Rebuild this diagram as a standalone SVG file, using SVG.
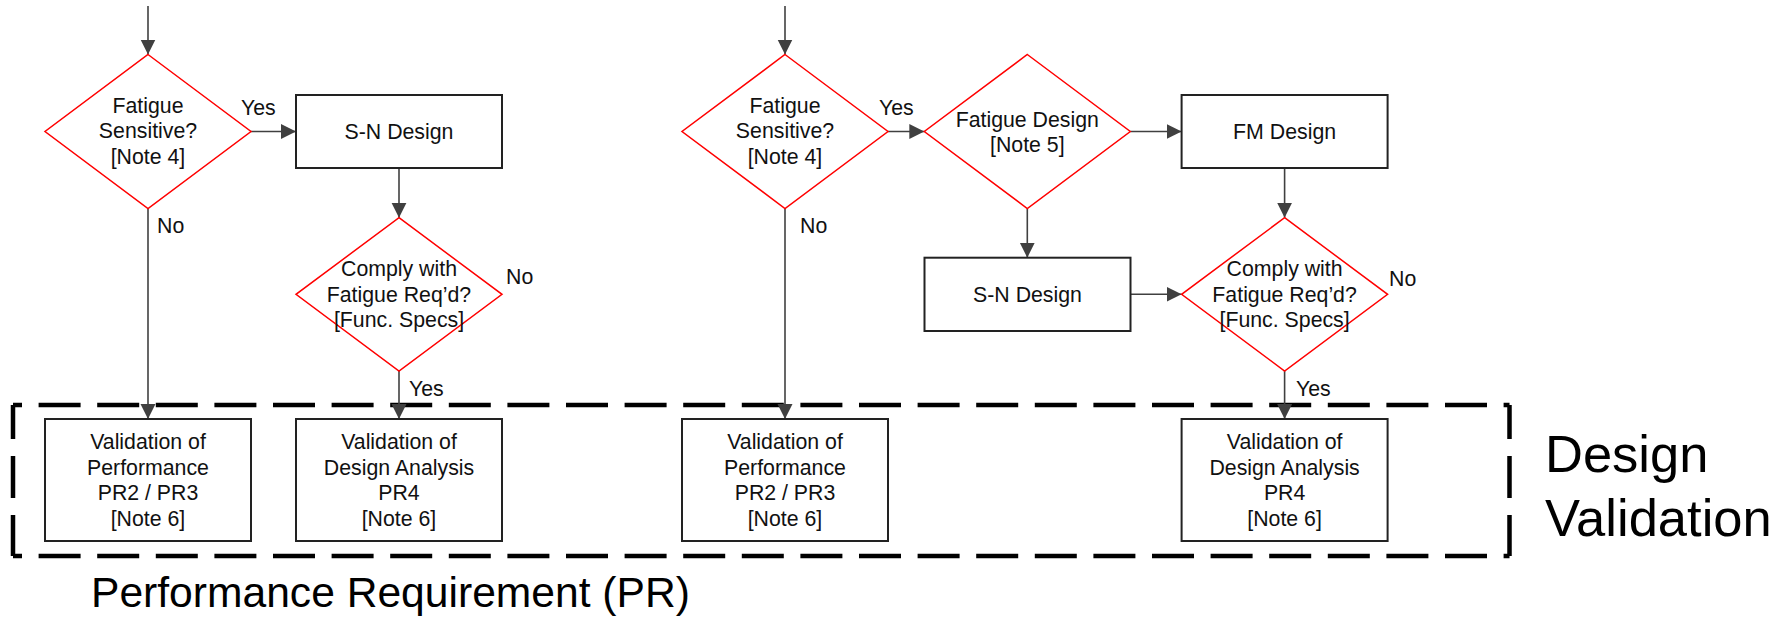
<svg xmlns="http://www.w3.org/2000/svg" width="1786" height="618" viewBox="0 0 1786 618">
<style>
  .dec{fill:#fff;stroke:#ff0000;stroke-width:1.5}
  .box{fill:#fff;stroke:#222;stroke-width:2}
  .t{font-family:"Liberation Sans",Arial,sans-serif;font-size:21.3px;fill:#111;text-anchor:middle}
  .lbl{font-family:"Liberation Sans",Arial,sans-serif;font-size:21.3px;fill:#111}
  .con{fill:none;stroke:#404040;stroke-width:1.6}
  .dash{fill:none;stroke:#000;stroke-width:4.5}
  .big{font-family:"Liberation Sans",Arial,sans-serif;fill:#000}
</style>
<defs>
  <marker id="arr" markerUnits="userSpaceOnUse" markerWidth="16" markerHeight="16" refX="15" refY="8" orient="auto">
    <path d="M0,0.5 L15,8 L0,15.5 z" fill="#404040"/>
  </marker>
</defs>

<g id="validation-frame">
  <path class="dash" d="M13,405 H1509.5" stroke-dasharray="42 16.6" stroke-dashoffset="33"/>
  <path class="dash" d="M13,556 H1509.5" stroke-dasharray="42 16.6" stroke-dashoffset="33"/>
  <path class="dash" d="M13,405 V556" stroke-dasharray="34 17 42 17 42"/>
  <path class="dash" d="M1509.5,405 V556" stroke-dasharray="34 17 42 17 42"/>
</g>

<g id="connectors">
  <path class="con" d="M148,6 V54.5" marker-end="url(#arr)"/>
  <path class="con" d="M251,131.5 H296" marker-end="url(#arr)"/>
  <path class="con" d="M399,168 V217.7" marker-end="url(#arr)"/>
  <path class="con" d="M148,208.5 V419" marker-end="url(#arr)"/>
  <path class="con" d="M399,371 V419" marker-end="url(#arr)"/>
  <path class="con" d="M785,6 V54.5" marker-end="url(#arr)"/>
  <path class="con" d="M888,131.5 H924.3" marker-end="url(#arr)"/>
  <path class="con" d="M1130.3,131.5 H1181.6" marker-end="url(#arr)"/>
  <path class="con" d="M1027.3,208.5 V257.7" marker-end="url(#arr)"/>
  <path class="con" d="M1130.5,294.3 H1181.6" marker-end="url(#arr)"/>
  <path class="con" d="M1284.6,168 V217.7" marker-end="url(#arr)"/>
  <path class="con" d="M785,208.5 V419" marker-end="url(#arr)"/>
  <path class="con" d="M1284.6,371 V419" marker-end="url(#arr)"/>
  <text class="lbl" x="241" y="115">Yes</text>
  <text class="lbl" x="157" y="233">No</text>
  <text class="lbl" x="506" y="284">No</text>
  <text class="lbl" x="409" y="396">Yes</text>
  <text class="lbl" x="879" y="115">Yes</text>
  <text class="lbl" x="800" y="233">No</text>
  <text class="lbl" x="1389" y="286">No</text>
  <text class="lbl" x="1296" y="396">Yes</text>
</g>

<g id="d1-fatigue-sensitive">
  <polygon class="dec" points="148,54.5 251,131.5 148,208.5 45,131.5"/>
  <text class="t" x="148" y="112.7">Fatigue</text>
  <text class="t" x="148" y="138.3">Sensitive?</text>
  <text class="t" x="148" y="163.8">[Note 4]</text>
</g>
<g id="sn-design-1">
  <rect class="box" x="296" y="95" width="206" height="73"/>
  <text class="t" x="399" y="139">S-N Design</text>
</g>
<g id="d2-comply">
  <polygon class="dec" points="399,217.7 502,294.3 399,371 296,294.3"/>
  <text class="t" x="399" y="276.3">Comply with</text>
  <text class="t" x="399" y="301.8">Fatigue Req’d?</text>
  <text class="t" x="399" y="327.3">[Func. Specs]</text>
</g>
<g id="val-perf-1">
  <rect class="box" x="45" y="419" width="206" height="122"/>
  <text class="t" x="148" y="449">Validation of</text>
  <text class="t" x="148" y="474.5">Performance</text>
  <text class="t" x="148" y="500">PR2 / PR3</text>
  <text class="t" x="148" y="525.5">[Note 6]</text>
</g>
<g id="val-design-1">
  <rect class="box" x="296" y="419" width="206" height="122"/>
  <text class="t" x="399" y="449">Validation of</text>
  <text class="t" x="399" y="474.5">Design Analysis</text>
  <text class="t" x="399" y="500">PR4</text>
  <text class="t" x="399" y="525.5">[Note 6]</text>
</g>

<g id="d3-fatigue-sensitive">
  <polygon class="dec" points="785,54.5 888,131.5 785,208.5 682,131.5"/>
  <text class="t" x="785" y="112.7">Fatigue</text>
  <text class="t" x="785" y="138.3">Sensitive?</text>
  <text class="t" x="785" y="163.8">[Note 4]</text>
</g>
<g id="d4-fatigue-design">
  <polygon class="dec" points="1027.3,54.5 1130.3,131.5 1027.3,208.5 924.3,131.5"/>
  <text class="t" x="1027.3" y="126.5">Fatigue Design</text>
  <text class="t" x="1027.3" y="152">[Note 5]</text>
</g>
<g id="fm-design">
  <rect class="box" x="1181.6" y="95" width="206" height="73"/>
  <text class="t" x="1284.6" y="139">FM Design</text>
</g>
<g id="sn-design-2">
  <rect class="box" x="924.5" y="257.7" width="206" height="73.3"/>
  <text class="t" x="1027.5" y="301.8">S-N Design</text>
</g>
<g id="d5-comply">
  <polygon class="dec" points="1284.6,217.7 1387.6,294.3 1284.6,371 1181.6,294.3"/>
  <text class="t" x="1284.6" y="276.3">Comply with</text>
  <text class="t" x="1284.6" y="301.8">Fatigue Req’d?</text>
  <text class="t" x="1284.6" y="327.3">[Func. Specs]</text>
</g>
<g id="val-perf-2">
  <rect class="box" x="682" y="419" width="206" height="122"/>
  <text class="t" x="785" y="449">Validation of</text>
  <text class="t" x="785" y="474.5">Performance</text>
  <text class="t" x="785" y="500">PR2 / PR3</text>
  <text class="t" x="785" y="525.5">[Note 6]</text>
</g>
<g id="val-design-2">
  <rect class="box" x="1181.6" y="419" width="206" height="122"/>
  <text class="t" x="1284.6" y="449">Validation of</text>
  <text class="t" x="1284.6" y="474.5">Design Analysis</text>
  <text class="t" x="1284.6" y="500">PR4</text>
  <text class="t" x="1284.6" y="525.5">[Note 6]</text>
</g>

<g id="titles">
  <text class="big" x="91" y="607" font-size="42.6">Performance Requirement (PR)</text>
  <text class="big" x="1545" y="472" font-size="52.5">Design</text>
  <text class="big" x="1545" y="536" font-size="52.5">Validation</text>
</g>
</svg>
